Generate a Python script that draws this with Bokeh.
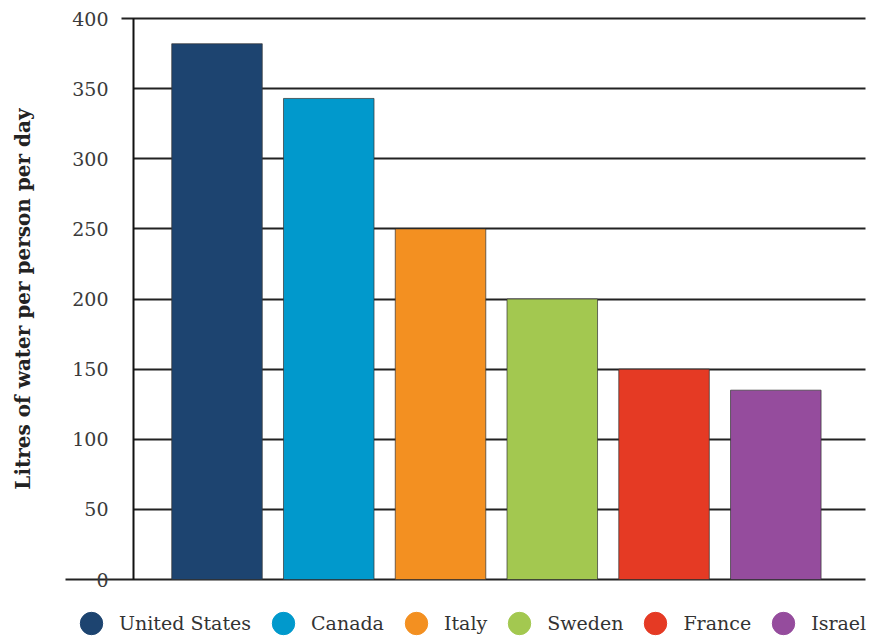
from bokeh.plotting import figure
from bokeh.models import (Range1d, FixedTicker, Legend, LegendItem, ColumnDataSource, Grid)
from bokeh.embed import file_html
from bokeh.resources import INLINE

countries = ["United States", "Canada", "Italy", "Sweden", "France", "Israel"]
litres = [382, 343, 250, 200, 150, 135]
colors = ["#1d4470", "#0199cc", "#f39021", "#a3c850", "#e53a24", "#954c9d"]
y_ticks = [0, 50, 100, 150, 200, 250, 300, 350, 400]
y_label = "Litres of water per person per day"

FONT = "DejaVu Serif"
LINE = "#222222"

# page layout (pixels)
W, H = 871, 636
AXIS_PX, RIGHT_PX, BASE_LEFT_PX = 133, 865, 65
BAR0_PX, PITCH = 216.5, 111.76          # first bar centre, px per category
Y0_PX, YTOP_PX = 579, 18                 # y=0 and y=max tick
YMAX = max(y_ticks)
PX_Y = (Y0_PX - YTOP_PX) / YMAX

def xd(px):
    return (px - BAR0_PX) / PITCH

x_range = Range1d(xd(0), xd(W))
y_range = Range1d(-(H - Y0_PX) / PX_Y, YMAX + YTOP_PX / PX_Y)

p = figure(width=W, height=H, output_backend="svg", toolbar_location=None,
           x_range=x_range, y_range=y_range, x_axis_location=None,
           min_border_left=0, min_border_right=0, min_border_top=0,
           min_border_bottom=0)
p.outline_line_color = None
p.xgrid.visible = False

ax = p.yaxis[0]
ax.fixed_location = xd(AXIS_PX)
ax.bounds = (0, YMAX)
ax.ticker = FixedTicker(ticks=y_ticks)
ax.axis_line_color = "#111111"
ax.axis_line_width = 2
ax.major_tick_out = 0
ax.major_tick_in = 0
ax.minor_tick_out = 0
ax.minor_tick_in = 0
ax.major_label_standoff = 25
ax.major_label_text_font = FONT
ax.major_label_text_font_size = "19px"
ax.major_label_text_color = "#3a3a3a"
ax.axis_label = y_label
ax.axis_label_standoff = 34
ax.axis_label_text_font = FONT
ax.axis_label_text_font_size = "20px"
ax.axis_label_text_font_style = "bold"
ax.axis_label_text_color = "#222222"

g = p.ygrid[0]
g.ticker = FixedTicker(ticks=y_ticks[1:-1])
g.cross_bounds = (xd(AXIS_PX), xd(RIGHT_PX))
g.grid_line_color = LINE
g.grid_line_width = 1.8
p.add_layout(Grid(dimension=1, ticker=FixedTicker(ticks=[YMAX]),
                  cross_bounds=(xd(AXIS_PX - 12), xd(RIGHT_PX)),
                  grid_line_color=LINE, grid_line_width=1.8))
p.add_layout(Grid(dimension=1, ticker=FixedTicker(ticks=[0]),
                  cross_bounds=(xd(BASE_LEFT_PX), xd(RIGHT_PX)),
                  grid_line_color=LINE, grid_line_width=1.8))

src = ColumnDataSource(dict(x=list(range(len(countries))), top=litres,
                            color=colors, country=countries))
p.vbar(x="x", top="top", bottom=0, width=0.81, fill_color="color",
       line_color="#333333", line_width=1, line_alpha=0.7, source=src)

items = []
for i, (c, col) in enumerate(zip(countries, colors)):
    r = p.scatter(x=[i], y=[litres[i]], marker="circle", size=10,
                  fill_color=col, line_color=col)
    r.visible = False
    items.append(LegendItem(label=c, renderers=[r]))

legend = Legend(items=items, orientation="horizontal", location=(63, -17),
                glyph_width=56, glyph_height=60, label_standoff=0, spacing=4,
                padding=0, margin=0, border_line_color=None,
                background_fill_alpha=0,
                label_text_font=FONT, label_text_font_size="19px",
                label_text_color="#333333")
p.add_layout(legend, "center")

open("out.html", "w").write(file_html(p, INLINE))
